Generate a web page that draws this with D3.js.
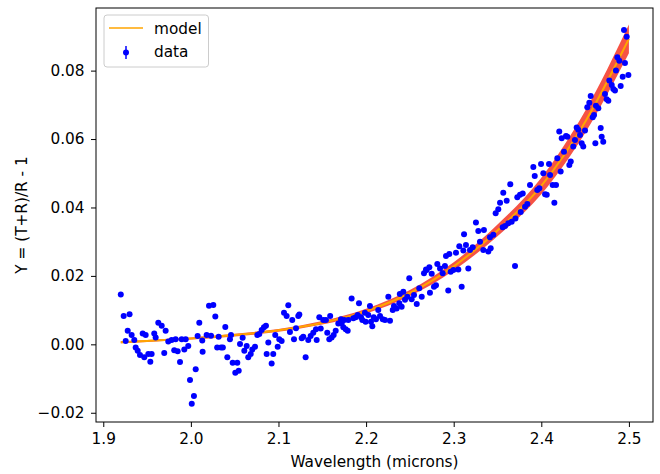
<!DOCTYPE html>
<html>
<head>
<meta charset="utf-8">
<script src="https://cdn.jsdelivr.net/npm/d3@7"></script>
<style>
  body { margin: 0; background: #fff; }
  svg text { font-family: "DejaVu Sans", sans-serif; fill: #000; }
</style>
</head>
<body>
<div id="chart"></div>
<script>
// measured points (wavelength in microns, Y)
var dataX = [1.920,1.9233,1.9256,1.9279,1.9300,1.9324,1.9354,1.9370,1.9393,1.9419,1.9450,1.9468,1.9484,1.9514,1.9537,1.9552,1.9582,1.9598,1.9628,1.9667,1.9696,1.9712,1.9742,1.9780,1.9810,1.9826,1.9849,1.9876,1.9895,1.9925,1.9941,1.9970,1.9990,2.0010,2.0035,2.0055,2.0077,2.0096,2.0130,2.0134,
  2.0180,2.0207,2.0230,2.0256,2.0279,2.0300,2.0317,2.0344,2.0365,2.0393,2.0416,2.0446,2.0458,2.0477,2.0507,2.0530,2.0546,2.0561,2.0591,2.0610,2.0637,2.0655,2.0683,2.0701,2.0732,2.0758,2.0781,2.0808,2.0834,2.0857,2.0865,2.0884,2.0922,2.0940,2.0963,2.0991,2.1009,2.1036,2.1063,2.1093,2.1112,2.1131,2.1157,2.1177,2.1200,2.1226,2.1238,2.1265,2.1283,2.1310,2.1340,2.1367,2.1397,2.1428,2.1436,2.1466,2.1482,2.1511,2.1542,2.1557,2.1580,
  2.1590,2.1607,2.1630,2.1653,2.1683,2.1713,2.1721,2.1740,2.1751,2.1767,2.1790,2.1797,2.1835,2.1854,2.1881,2.1904,2.1919,2.1942,2.1957,2.1987,2.1995,2.2025,2.2044,2.2056,2.2071,2.2087,
  2.2113,2.2139,2.2159,2.2190,2.2216,2.2254,2.2273,2.2304,2.2318,2.2349,2.2379,2.2385,2.2406,2.2425,2.2444,2.2470,2.2493,2.2520,2.2547,2.2578,2.2607,2.2635,2.2661,2.2684,2.2692,2.2722,2.2729,2.2749,2.2775,2.2798,2.2813,2.2844,2.2874,2.2900,2.2912,2.2938,2.2950,2.2966,2.2996,2.3026,2.3053,2.3064,2.3091,2.3110,2.3118,2.3140,2.3167,2.3186,2.3217,2.3254,2.3281,2.3300,2.3338,2.3345,2.3395,2.3414,2.3422,2.3452,2.3479,2.3509,2.3529,2.3559,2.3566,2.3586,2.3605,2.3623,2.3646,2.3662,2.3700,2.3705,2.3726,2.3757,2.3765,2.3788,2.3814,2.3840,2.3871,2.3909,2.3925,2.3954,2.3977,2.3997,2.4023,2.4043,2.4062,2.4088,2.4100,2.4130,2.4149,2.4168,2.4183,2.4205,2.4221,2.4233,2.4259,2.4282,2.4297,2.4320,2.4336,2.4365,2.4384,2.4404,2.4422,2.4442,2.4461,2.4479,2.4499,2.4525,2.4548,2.4564,2.4587,2.4602,2.4617,2.4624,2.4651,2.4678,2.4689,2.4707,2.4727,2.4746,2.4765,2.4776,2.4804,2.4822,2.4841,2.4852,2.4868,2.4890,2.4906,2.4929,2.4944,2.4955,2.4975,2.4994];
var dataY = [0.0146,0.0083,0.0010,0.0040,0.0088,0.0027,0.0013,-0.0009,-0.0019,-0.0031,0.0032,-0.0038,0.0027,-0.0028,-0.0051,-0.0028,0.0032,0.0020,0.0063,0.0054,-0.0025,0.0040,0.0008,0.0013,-0.0017,0.0015,-0.0020,-0.0052,0.0015,-0.0015,0.0015,-0.0005,-0.0104,-0.0174,-0.0151,-0.0073,0.0024,0.0063,0.0011,-0.0022,
  0.0027,0.0113,0.0025,0.0115,0.0081,-0.0009,0.0022,-0.0009,-0.0009,0.0051,-0.0038,0.0015,0.0027,-0.0054,-0.0083,-0.0054,-0.0077,0.0001,0.0019,-0.0019,-0.0005,-0.0038,-0.0028,-0.0015,-0.0007,0.0027,0.0030,0.0042,0.0050,0.0054,-0.0028,0.0005,-0.0056,-0.0028,0.0027,-0.0007,0.0015,0.0010,0.0092,0.0083,0.0114,0.0036,0.0071,0.0015,0.0047,0.0083,0.0087,0.0018,0.0022,-0.0038,0.0013,0.0024,0.0034,0.0044,0.0013,0.0079,0.0046,0.0071,0.0071,0.0034,0.0015,
  0.0083,0.0020,0.0027,0.0040,0.0061,0.0073,0.0061,0.0050,0.0071,0.0044,0.0040,0.0071,0.0134,0.0076,0.0079,0.0086,0.0120,0.0079,0.0071,0.0092,0.0066,0.0086,0.0112,0.0066,0.0053,0.0079,
  0.0073,0.0100,0.0083,0.0073,0.0071,0.0139,0.0069,0.0100,0.0112,0.0105,0.0120,0.0147,0.0110,0.0154,0.0130,0.0139,0.0193,0.0132,0.0144,0.0118,0.0164,0.0139,0.0208,0.0219,0.0217,0.0225,0.0151,0.0206,0.0168,0.0173,0.0235,0.0222,0.0208,0.0229,0.0258,0.0157,0.0264,0.0212,0.0217,0.0268,0.0219,0.0287,0.0168,0.0274,0.0322,0.0290,0.0222,0.0276,0.0284,0.0356,0.0331,0.0300,0.0276,0.0334,0.0271,0.0313,0.0281,0.0320,0.0383,0.0395,0.0414,0.0342,0.0443,0.0346,0.0420,0.0354,0.0468,0.0358,0.0229,0.0368,0.0430,0.0437,0.0387,0.0441,0.0402,0.0410,0.0466,0.0518,0.0492,0.0451,0.0456,0.0527,0.0500,0.0439,0.0437,0.0527,0.0495,0.0466,0.0414,0.0466,0.0544,0.0622,0.0505,0.0602,0.0563,0.0609,0.0607,0.0524,0.0534,0.0578,0.0597,0.0634,0.0627,0.0612,0.0588,0.0578,0.0625,0.0693,0.0706,0.0726,0.0664,0.0670,0.0588,0.0697,0.0690,0.0632,0.0607,0.0592,0.0732,0.0716,0.0712,0.0771,0.0758,0.0746,0.0742,0.0800,0.0839,0.0829,0.0755,0.0782,0.0919,0.0822,0.0899,0.0787];

// model curve and its spread
var modelX = [1.92, 1.95, 2.00, 2.05, 2.10, 2.15, 2.20, 2.25, 2.30, 2.35, 2.40, 2.45, 2.50];
var modelY = [0.0006, 0.0010, 0.0017, 0.0027, 0.0041, 0.0063, 0.0097, 0.0150, 0.0228, 0.0333, 0.0463, 0.0650, 0.0893];
var modelErr = [0.0003, 0.0003, 0.0003, 0.0004, 0.0004, 0.0005, 0.0007, 0.0009, 0.0012, 0.0017, 0.0024, 0.0032, 0.0042];

var xTicks = [1.9, 2.0, 2.1, 2.2, 2.3, 2.4, 2.5];
var yTicks = [-0.02, 0.00, 0.02, 0.04, 0.06, 0.08];

var W = 660, H = 474;
var margin = {top: 8, right: 7, bottom: 52, left: 96};
var width = W - margin.left - margin.right,
    height = H - margin.top - margin.bottom;
var fs = "15.3px";

var svg = d3.select("#chart").append("svg")
  .attr("width", W)
  .attr("height", H);

var g = svg.append("g")
  .attr("transform", "translate(" + margin.left + "," + margin.top + ")");

var x = d3.scaleLinear().domain([1.8917, 2.5275]).range([0, width]);
var y = d3.scaleLinear().domain([-0.0227, 0.0983]).range([height, 0]);

g.append("clipPath").attr("id", "clip")
  .append("rect").attr("width", width).attr("height", height);

var plot = g.append("g").attr("clip-path", "url(#clip)");

var model = modelX.map(function(d, i) { return {x: d, y: modelY[i], e: modelErr[i]}; });

// uncertainty band
var band = d3.area()
  .x(function(d) { return x(d.x); })
  .y0(function(d) { return y(d.y - d.e); })
  .y1(function(d) { return y(d.y + d.e); })
  .curve(d3.curveMonotoneX);

plot.append("path")
  .datum(model)
  .attr("d", band)
  .attr("fill", "#f64a3a")
  .attr("opacity", 0.95);

var line = d3.line()
  .x(function(d) { return x(d.x); })
  .y(function(d) { return y(d.y); })
  .curve(d3.curveMonotoneX);

plot.append("path")
  .datum(model)
  .attr("d", line)
  .attr("fill", "none")
  .attr("stroke", "#ffa500")
  .attr("stroke-width", 2);

var pts = dataX.map(function(d, i) { return {x: d, y: dataY[i]}; });

plot.selectAll(".dot")
  .data(pts)
  .join("circle")
  .attr("class", "dot")
  .attr("cx", function(d) { return x(d.x); })
  .attr("cy", function(d) { return y(d.y); })
  .attr("r", 3)
  .attr("fill", "#0000ff");

// axes
var fmtY = function(d) { return d3.format(".2f")(d).replace("-", "\u2212"); };

var xAxis = g.append("g")
  .attr("transform", "translate(0," + height + ")")
  .call(d3.axisBottom(x).tickValues(xTicks).tickFormat(d3.format(".1f")).tickSize(5).tickPadding(6));

var yAxis = g.append("g")
  .call(d3.axisLeft(y).tickValues(yTicks).tickFormat(fmtY).tickSize(5).tickPadding(6.5));

[xAxis, yAxis].forEach(function(a) {
  a.select(".domain").remove();
  a.selectAll("line").attr("stroke", "#000").attr("stroke-width", 1);
  a.selectAll("text").style("font-size", fs).attr("fill", "#000");
});

// frame
g.append("rect")
  .attr("width", width)
  .attr("height", height)
  .attr("fill", "none")
  .attr("stroke", "#000")
  .attr("stroke-width", 1);

svg.append("text")
  .attr("x", margin.left + width / 2)
  .attr("y", 467)
  .attr("text-anchor", "middle")
  .style("font-size", fs)
  .text("Wavelength (microns)");

svg.append("text")
  .attr("transform", "translate(27," + (margin.top + height / 2) + ") rotate(-90)")
  .attr("text-anchor", "middle")
  .style("font-size", fs)
  .text("Y = (T+R)/R - 1");

// legend
var leg = g.append("g").attr("transform", "translate(8,7)");

leg.append("rect")
  .attr("width", 104.5)
  .attr("height", 52)
  .attr("rx", 3)
  .attr("fill", "#fff")
  .attr("fill-opacity", 0.8)
  .attr("stroke", "#cccccc");

leg.append("line")
  .attr("x1", 5).attr("x2", 39)
  .attr("y1", 13).attr("y2", 13)
  .attr("stroke", "#ffa500")
  .attr("stroke-width", 1.5);

leg.append("line")
  .attr("x1", 22).attr("x2", 22)
  .attr("y1", 31).attr("y2", 44)
  .attr("stroke", "#0000ff")
  .attr("stroke-width", 1.5);

leg.append("circle")
  .attr("cx", 22).attr("cy", 37.5)
  .attr("r", 3)
  .attr("fill", "#0000ff");

leg.append("text")
  .attr("x", 50).attr("y", 19.3)
  .style("font-size", fs)
  .text("model");

leg.append("text")
  .attr("x", 50).attr("y", 42.3)
  .style("font-size", fs)
  .text("data");
</script>
</body>
</html>
